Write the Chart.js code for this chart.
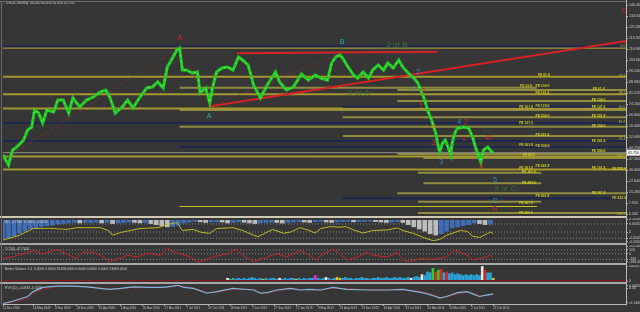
<!DOCTYPE html>
<html>
<head>
<meta charset="utf-8">
<title>USOIL Weekly</title>
<script src="https://cdn.jsdelivr.net/npm/chart.js@4.4.1/dist/chart.umd.min.js"></script>
<style>
  html, body { margin: 0; padding: 0; background: #363636; }
  #wrap { position: relative; width: 640px; height: 312px; overflow: hidden; }
  #wrap canvas { position: absolute; left: 0; }
  #wrap .rule { position: absolute; left: 0; background: #a8a8a8; }
</style>
</head>
<body>
<div id="wrap">
  <canvas id="main" width="640" height="216" style="top:0"></canvas>
  <canvas id="ao" width="640" height="25" style="top:218px"></canvas>
  <canvas id="cci" width="640" height="18" style="top:245px"></canvas>
  <canvas id="vol" width="640" height="17" style="top:265px"></canvas>
  <canvas id="rvi" width="640" height="28" style="top:284px"></canvas>
  <div class="rule" style="top:216px;width:626px;height:2px;background:#cfc8b2"></div>
  <div class="rule" style="top:243px;width:626px;height:2px"></div>
  <div class="rule" style="top:263px;width:626px;height:2px"></div>
  <div class="rule" style="top:282px;width:626px;height:2px"></div>
  <div class="rule" style="top:1px;width:626px;height:1px;background:#6c6c6c"></div>
  <div class="rule" style="top:1px;left:1px;width:1px;height:304px;background:#6c6c6c"></div>
  <div class="rule" style="top:0;left:626px;width:1px;height:305px;background:#b8b8b8"></div>
</div>
<script>
const FONT = '"Liberation Sans", "DejaVu Sans", Arial, sans-serif';
const WEEK_MAX = 455; // right edge of the chart window, in weeks from 11 Dec 2008

// ---- price (weekly, week index from 11 Dec 2008) ----
const priceWeeks = [0, 4, 7, 10, 15, 18, 21, 23, 26, 29, 32, 37, 40, 44, 48, 51, 56, 61, 66, 71,
  75, 78, 82, 87, 91, 95, 100, 105, 109, 113, 117, 120, 123, 127, 129, 131, 134, 138, 142, 144,
  148, 151, 153, 156, 160, 164, 168, 172, 175, 179, 183, 188, 193, 199, 202, 207, 212, 218, 223, 228,
  232, 237, 240, 243, 246, 248, 251, 256, 259, 263, 267, 270, 274, 278, 281, 285, 289, 292, 296, 300,
  303, 306, 308, 310, 313, 316, 318, 319, 321, 323, 325, 327, 328, 330, 332, 334, 336, 340, 343, 345,
  348, 349, 351, 354, 357, 358];
const priceClose = [40.2, 33.5, 43.5, 45.5, 50.2, 56.9, 58.9, 70.3, 68.3, 61.6, 70.3, 69.0, 77.0, 77.0, 68.3, 78.4, 72.3, 77.0, 79.0, 82.4,
  83.7, 79.0, 68.3, 72.3, 77.0, 71.7, 79.0, 85.1, 85.7, 89.1, 85.1, 99.1, 103.8, 110.5, 111.9, 97.1, 97.1, 95.1, 95.8, 81.7,
  85.1, 75.0, 85.1, 95.8, 98.5, 99.1, 97.1, 105.8, 103.8, 100.5, 87.1, 78.4, 87.1, 95.8, 89.1, 83.7, 85.7, 94.4, 90.4, 93.8,
  91.7, 90.4, 101.8, 105.8, 107.2, 105.2, 100.5, 93.8, 91.7, 95.8, 91.7, 97.1, 100.5, 97.1, 101.8, 98.5, 103.8, 99.1, 95.1, 91.7,
  88.4, 81.7, 77.0, 70.3, 63.6, 54.9, 45.5, 42.2, 48.2, 50.2, 45.5, 40.2, 48.2, 54.9, 58.3, 58.3, 58.9, 58.3, 52.2, 45.5,
  38.2, 35.5, 43.5, 45.5, 42.2, 41.8];
const lastPrice = 41.75;
const priceTicks = [140.400, 133.040, 125.680, 118.320, 110.960, 103.600, 96.240, 88.880, 81.520, 74.160,
  66.800, 59.440, 52.080, 44.720, 37.360, 30.000, 22.640, 15.280, 7.920, 0.560];

// fibonacci / expansion levels
const fibLevel = [112.9, 112.1, 92.6, 85.3, 83.7, 80.8, 76.4, 72.5, 71.3, 70.3, 65.4, 61.6, 59.1, 52.9,
  49.6, 45.5, 40.9, 39.2, 38.2, 30.5, 28.3, 21.2, 14.5, 11.2, 8.9, 5.7, 1.3];
const fibFrom = [0, 0, 0, 129, 288, 0, 288, 248, 0, 129, 248, 0, 129, 248,
  0, 129, 288, 0, 307, 0, 303, 307, 288, 248, 303, 129, 303];
const fibTo = [455, 455, 455, 390, 455, 455, 455, 455, 455, 455, 455, 455, 455, 455,
  455, 455, 455, 455, 455, 455, 393, 393, 455, 455, 393, 390, 455];
const fibKind = ['n', 'g', 'g', 'o', 'o', 'g', 'o', 'n', 'g', 'o', 'o', 'n', 'o', 'o',
  'n', 'n', 'o', 'g', 'o', 'g', 'o', 'o', 'o', 'n', 'o', 'y', 'o'];

const feText = ['FE 61.8', 'FE 61.8', 'FE 100.0', 'FE 61.8', 'FE 161.8', 'FE 100.0', 'FE 161.8', 'FE 123.6', 'FE 127.2', 'FE 200.0',
  'FE 161.8', 'FE 127.2', 'FE 200.0', 'FE 261.8', 'FE 261.8', 'FE 161.8', 'FE 300.0', 'FE 300.0', 'FE 50.0', 'FE 261.8',
  'FE 261.8', 'FE 161.8', 'FE 200.0', 'FE 161.8', 'FE 423.6', 'FE 361.8', 'FE 261.8', 'FE 423.6', 'FE 261.8', 'FE 300.0'];
const feWeek = [395, 382, 394, 435, 394, 435, 382, 394, 435, 394,
  435, 382, 435, 394, 435, 382, 394, 435, 384, 394,
  382, 435, 450, 384, 384, 435, 394, 450, 382, 382];
const feLevel = [93.8, 86.4, 86.4, 84.4, 81.7, 77.0, 72.3, 73.0, 72.3, 66.3,
  66.3, 61.6, 59.6, 53.6, 49.6, 46.9, 46.2, 42.9, 40.2, 32.8,
  31.5, 31.5, 30.8, 28.8, 21.4, 14.7, 12.7, 11.4, 8.0, 1.3];
const retrText = ['0.0', '23.6', '38.2', '50.0', '61.8', '76.4', '100.0', '161.8', '138.2'];
const retrLevel = [113.2, 93.1, 81.7, 72.3, 62.3, 50.9, 39.5, 30.8, 0.9];

// wave count labels
const waveText = ['A', 'A', 'B', '2 or B', '1 or A', '2', '1', '2', '1', '4', '3', '3', '4', '2', '1', '4?', '3', '5', '3 or C', 'C', 'B', 'C'];
const waveWeek = [129.3, 150.5, 247.6, 287.8, 260.0, 303.1, 300.2, 306.8, 305.3, 314.1, 314.1, 320.0, 333.1, 338.2, 336.7, 355.0, 349.2, 359.4, 366.7, 359.4, 359.4, 453.6];
const waveLevel = [118.6, 66.3, 115.9, 113.9, 81.7, 95.8, 84.4, 83.1, 73.0, 58.9, 48.2, 35.5, 62.3, 62.3, 50.9, 51.6, 32.8, 23.4, 17.4, 9.4, 4.0, 136.6];
const waveTone = ['r', 't', 't', 'g', 'g', 'b', 'b', 'r', 'r', 'o', 'r', 'b', 'b', 'r', 'r', 'r', 'r', 'b', 'g', 't', 'r', 'r'];

// red trend lines and dotted zigzag
const trendFromWeek = [171, 150.5];
const trendFromLevel = [108.3, 72.7];
const trendToWeek = [317, 455];
const trendToLevel = [109.4, 116.5];
const zigWeeks = [0, 129.3, 150.5, 247.6];
const zigLevels = [36.8, 112.5, 72.3, 108.5];

// ---- AO pane ----
const aoHist = [-0.85, -0.80, -0.72, -0.60, -0.50, -0.40, -0.33, -0.30, -0.25, -0.22,
  -0.18, -0.15, -0.12, -0.10, -0.12, -0.10, -0.10, -0.08, -0.12, -0.10,
  -0.15, -0.12, -0.10, -0.08, -0.10, -0.12, -0.10, -0.15, -0.20, -0.25,
  -0.30, -0.28, -0.22, -0.12, -0.08, -0.05, -0.07, -0.10, -0.08, -0.06,
  -0.08, -0.12, -0.10, -0.07, -0.09, -0.12, -0.15, -0.12, -0.10, -0.08,
  -0.10, -0.13, -0.10, -0.08, -0.06, -0.08, -0.10, -0.07, -0.05, -0.08,
  -0.10, -0.08, -0.06, -0.05, -0.07, -0.06, -0.05, -0.04, -0.06, -0.08,
  -0.10, -0.08, -0.06, -0.10, -0.20, -0.30, -0.40, -0.50, -0.62, -0.68,
  -0.62, -0.50, -0.35, -0.30, -0.25, -0.20, -0.12, -0.15, -0.20, -0.18];
const aoHistWeeks = aoHist.map((v, i) => i * 4);
const aoLineWeeks = [0, 12, 22, 34, 47, 54, 71, 77, 80, 86, 100, 113, 120, 127, 131, 139, 145, 151, 156, 168,
  175, 186, 193, 197, 205, 210, 217, 224, 228, 232, 239, 246, 250, 256, 263, 270, 281, 288, 292, 300,
  307, 314, 319, 324, 334, 339, 343, 348, 354, 356, 358];
const aoLine = [-0.91, -0.69, -0.38, -0.37, -0.42, -0.34, -0.34, -0.47, -0.69, -0.56, -0.38, -0.34, -0.20, -0.10, -0.47, -0.42, -0.56, -0.60, -0.38, -0.34,
  -0.47, -0.76, -0.54, -0.42, -0.60, -0.54, -0.34, -0.47, -0.59, -0.38, -0.29, -0.32, -0.29, -0.44, -0.59, -0.47, -0.44, -0.35, -0.47, -0.61,
  -0.79, -0.94, -0.88, -0.69, -0.47, -0.51, -0.73, -0.79, -0.61, -0.54, -0.61];
const aoLevels = [-0.17, -0.54, -0.83];
const aoTicks = [0.04, -0.17, -0.54, -0.83, -0.98];
const aoTickLabels = ['0.2050', '0.0045', '0', '-0.0045', '-0.2050'];

// ---- CCI pane ----
const cciWeeks = [0, 7, 18, 22, 29, 40, 47, 54, 58, 66, 71, 78, 82, 91, 98, 105, 115, 120, 122, 129,
  137, 142, 148, 153, 164, 170, 175, 183, 190, 200, 207, 217, 224, 229, 232, 239, 241, 246, 251, 259,
  266, 270, 281, 288, 292, 297, 305, 314, 324, 329, 334, 339, 343, 348, 354, 356, 358];
const cciValues = [-125, -85, 40, 83, 0, 108, -18, -125, 40, 40, -43, -210, -168, -43, -85, 15, -43, 165, 83, 0,
  -85, -215, -168, -85, 0, 125, -43, -210, -125, 0, -85, 83, -43, -168, -43, 83, 125, 0, -168, -85,
  40, -43, -85, 40, -168, -210, -125, -150, -85, 83, 40, -43, -168, -125, -68, -43, -100];
const cciLevels = [100, 0, -150];
const cciTicks = [200, 100, 0, -150, -215];
const cciTickLabels = ['261.4800', '100', '0', '-100', '-288.4800'];

// ---- Better Volume pane (thousands) ----
const volValues = [3, 2, 3, 2, 3, 2, 3, 2, 3, 4,
  3, 2, 3, 2, 3, 2, 3, 3, 2, 3,
  2, 3, 2, 3, 3, 2, 3, 2, 3, 2,
  3, 3, 6, 3, 2, 3, 4, 3, 2, 3,
  4, 3, 3, 4, 3, 3, 2, 3, 3, 4,
  3, 3, 2, 3, 3, 4, 3, 3, 4, 3,
  3, 4, 3, 4, 3, 3, 4, 3, 4, 5,
  4, 7, 6, 10, 9, 14, 10, 12, 13, 9,
  10, 8, 9, 7, 8, 7, 6, 7, 6, 7,
  6, 7, 6, 16, 12, 9, 9, 3];
const volWeeks = volValues.map((v, i) => 164 + i * 2);
const volTone = 'wgnnnnnnnn' + 'nnnynnnnnw' + 'nnnnnynnnn' + 'nnmnnnwnnn' + 'yynnnnnnnn' +
  'nnnnnnnnnn' + 'nnnnnnnwnn' + 'nwnnngrgrn' + 'rnnnnnnnnn' + 'nnnwrnny';
const volTicks = [16, 0];
const volTickLabels = ['40433.0', '0'];

// ---- RVI pane ----
const rviWeeks = [0, 7, 18, 22, 29, 39, 51, 61, 71, 78, 86, 95, 107, 117, 124, 128, 132, 139, 149, 156,
  168, 183, 188, 193, 200, 210, 217, 224, 232, 241, 251, 266, 281, 292, 302, 310, 316, 319, 324, 332,
  339, 343, 348, 354, 358];
const rviMain = [-0.120, -0.098, -0.051, -0.003, 0.038, 0.051, 0.051, 0.044, 0.029, 0.019, 0.029, 0.044, 0.038, 0.038, 0.051, 0.060, 0.038, 0.029, -0.019, -0.003,
  0.029, 0.013, -0.019, -0.013, 0.013, 0.029, 0.013, 0.019, 0.013, 0.038, 0.019, 0.013, 0.013, 0.019, -0.003, -0.025, -0.051, -0.066, -0.051, -0.013,
  -0.003, -0.025, -0.051, -0.035, -0.025];
const rviSignal = [-0.118, -0.108, -0.070, -0.025, 0.020, 0.045, 0.050, 0.046, 0.034, 0.022, 0.024, 0.038, 0.040, 0.036, 0.046, 0.054, 0.045, 0.032, -0.008, -0.012,
  0.020, 0.018, -0.010, -0.017, 0.004, 0.024, 0.018, 0.016, 0.014, 0.030, 0.026, 0.014, 0.012, 0.016, 0.004, -0.016, -0.040, -0.060, -0.058, -0.026,
  -0.008, -0.018, -0.042, -0.042, -0.030];
const rviTicks = [0.055, 0.03, -0.115];
const rviTickLabels = ['0.0460', '0.00', '-0.1400'];

// ---- date axis ----
const dateWeeks = [0, 22, 38, 54, 70, 86, 102, 118, 134, 150, 166, 182, 198, 214, 230, 246, 262, 278, 294, 310, 326, 342, 358];
const dateLabels = ['11 Dec 2008', '14 May 2009', '3 Sep 2009', '24 Dec 2009', '15 Apr 2010', '5 Aug 2010', '25 Nov 2010', '17 Mar 2011',
  '7 Jul 2011', '27 Oct 2011', '16 Feb 2012', '7 Jun 2012', '27 Sep 2012', '17 Jan 2013', '9 May 2013', '29 Aug 2013',
  '19 Dec 2013', '10 Apr 2014', '31 Jul 2014', '20 Nov 2014', '12 Mar 2015', '2 Jul 2015', '22 Oct 2015'];

// ---- styles ----
const fibStyle = { g: ['#a8962e', 2], o: ['#8f8c40', 2], n: ['#1e2752', 2], y: ['#c9c21e', 1.2] };
const waveColor = { r: '#e02626', t: '#1fb5b5', b: '#2f8ad8', g: '#2e7d2e', o: '#e8821e' };
const volColor = { n: '#2aa5dc', w: '#e8e8e8', g: '#2ccd2c', r: '#d42a2a', y: '#d8c82a', m: '#e02ae0' };

const pts = (xs, ys) => xs.map((x, i) => ({ x, y: ys[i] }));
const flat = (v, from, to) => [{ x: from, y: v }, { x: to, y: v }];
const lineSet = (data, color, width, extra) => Object.assign({
  type: 'line', data, borderColor: color, borderWidth: width, pointRadius: 0, tension: 0, fill: false
}, extra || {});

function notes(items, title) {
  return {
    id: 'notes',
    afterDatasetsDraw(chart) {
      const { ctx, chartArea, scales: { x, y } } = chart;
      ctx.save();
      items.forEach(n => {
        ctx.font = n.font;
        ctx.fillStyle = n.color;
        ctx.textAlign = n.align || 'center';
        ctx.textBaseline = 'middle';
        ctx.fillText(n.text, x.getPixelForValue(n.x), y.getPixelForValue(n.y));
      });
      if (title) {
        ctx.font = '3.4px ' + FONT;
        ctx.fillStyle = '#d0d0d0';
        ctx.textAlign = 'left';
        ctx.textBaseline = 'top';
        ctx.fillText(title, chartArea.left + 2, chartArea.top + 1);
      }
      ctx.restore();
    }
  };
}

function pane(id, cfg) {
  return new Chart(document.getElementById(id), {
    type: 'line',
    data: { datasets: cfg.datasets },
    options: {
      responsive: false,
      animation: false,
      events: [],
      layout: { padding: cfg.padding },
      plugins: { legend: { display: false }, tooltip: { enabled: false } },
      scales: {
        x: Object.assign({ type: 'linear', min: 0, max: WEEK_MAX, offset: false, display: false }, cfg.x || {}),
        y: {
          position: 'right',
          min: cfg.min,
          max: cfg.max,
          afterFit(s) { s.width = 14; s.paddingTop = 0; s.paddingBottom = 0; },
          afterBuildTicks(s) { s.ticks = cfg.ticks.map(v => ({ value: v })); },
          ticks: { color: '#c8c8c8', font: { size: 3.6, family: FONT }, padding: 1, autoSkip: false, callback: cfg.label },
          grid: { drawOnChartArea: false, tickLength: 2, color: '#b0b0b0' },
          border: { display: false }
        }
      }
    },
    plugins: [notes(cfg.notes || [], cfg.title)].concat(cfg.plugins || [])
  });
}

// ---- main price pane ----
const mainSets = [];
fibLevel.forEach((v, i) => {
  const st = fibStyle[fibKind[i]];
  mainSets.push(lineSet(flat(v, fibFrom[i], fibTo[i]), st[0], st[1], { order: 6 }));
});
mainSets.push(lineSet(flat(lastPrice, 0, WEEK_MAX), '#8c8c8c', 1, { order: 5 }));
mainSets.push(lineSet(pts(zigWeeks, zigLevels), '#9c3232', 1, { borderDash: [1, 2], order: 4 }));
trendFromWeek.forEach((w, i) => {
  mainSets.push(lineSet([{ x: w, y: trendFromLevel[i] }, { x: trendToWeek[i], y: trendToLevel[i] }], '#d62222', 2, { order: 3 }));
});
mainSets.push(lineSet(pts(priceWeeks, priceClose), '#22cc22', 3, { order: 2 }));
mainSets.push(lineSet(pts(priceWeeks, priceClose), 'rgba(215,255,215,0.75)', 0.7, { borderDash: [1.5, 4], order: 1 }));

const mainNotes = [];
feText.forEach((t, i) => mainNotes.push({ text: t, x: feWeek[i], y: feLevel[i], color: '#d8d01c', font: 'bold 3.4px ' + FONT }));
retrText.forEach((t, i) => mainNotes.push({ text: t, x: WEEK_MAX - 0.5, y: retrLevel[i], color: '#c8b830', font: '3.4px ' + FONT, align: 'right' }));
waveText.forEach((t, i) => mainNotes.push({
  text: t, x: waveWeek[i], y: waveLevel[i], color: waveColor[waveTone[i]],
  font: (t.length > 2 ? '8px ' : '7px ') + FONT
}));

const priceBox = {
  id: 'priceBox',
  afterDraw(chart) {
    const { ctx, chartArea, scales: { y } } = chart;
    const py = y.getPixelForValue(lastPrice);
    ctx.save();
    ctx.fillStyle = '#f2f2f2';
    ctx.fillRect(chartArea.right + 1, py - 3, 14, 6);
    ctx.fillStyle = '#202020';
    ctx.font = '3.6px ' + FONT;
    ctx.textAlign = 'left';
    ctx.textBaseline = 'middle';
    ctx.fillText(lastPrice.toFixed(3), chartArea.right + 2, py);
    ctx.font = '3.4px ' + FONT;
    ctx.fillStyle = '#d0d0d0';
    ctx.textBaseline = 'top';
    ctx.fillText('USOIL,Weekly  44.450 44.810 41.620 41.750', chartArea.left + 3, 1.5);
    ctx.restore();
  }
};

pane('main', {
  padding: { top: 3, bottom: 1, left: 3, right: 0 },
  min: 0, max: 142, ticks: priceTicks,
  label: v => v.toFixed(3),
  datasets: mainSets, notes: mainNotes, plugins: [priceBox]
});

// ---- AO ----
pane('ao', {
  padding: { top: 1, bottom: 1, left: 3, right: 0 },
  min: -1, max: 0.06, ticks: aoTicks,
  label: (v, i) => aoTickLabels[i],
  title: 'AO -4.7046  0.0004  -4.6521',
  datasets: [
    ...aoLevels.map(v => lineSet(flat(v, 0, WEEK_MAX), '#858585', 1, { borderDash: [1, 2], order: 5 })),
    {
      type: 'bar', data: pts(aoHistWeeks, aoHist), barThickness: 4, order: 3,
      backgroundColor: aoHist.map((v, i) => (i === 0 || v >= aoHist[i - 1]) ? '#3f6fb8' : '#bdbdbd')
    },
    lineSet(pts(aoLineWeeks, aoLine), '#c0b82a', 1, { order: 1 })
  ]
});

// ---- CCI ----
pane('cci', {
  padding: { top: 1, bottom: 1, left: 3, right: 0 },
  min: -220, max: 205, ticks: cciTicks,
  label: (v, i) => cciTickLabels[i],
  title: 'CCI(4) -47.7006',
  datasets: [
    ...cciLevels.map(v => lineSet(flat(v, 0, WEEK_MAX), '#858585', 1, { borderDash: [1, 2], order: 5 })),
    lineSet(pts(cciWeeks, cciValues), '#c42828', 1, { order: 1 })
  ]
});

// ---- Better Volume ----
pane('vol', {
  padding: { top: 1, bottom: 1, left: 3, right: 0 },
  min: 0, max: 16.5, ticks: volTicks,
  label: (v, i) => volTickLabels[i],
  title: 'Better Volume 1.4  0.0000 0.0000 25438.0000 0.0000 0.0000 0.0000 13463.0000',
  datasets: [
    {
      type: 'bar', data: pts(volWeeks, volValues), barThickness: 2, order: 3,
      backgroundColor: volValues.map((v, i) => volColor[volTone[i]])
    },
    lineSet(flat(0.25, 0, WEEK_MAX), '#8a1818', 1.5, { order: 1 })
  ]
});

// ---- RVI + date axis ----
pane('rvi', {
  padding: { top: 1, bottom: 0, left: 3, right: 0 },
  min: -0.125, max: 0.062, ticks: rviTicks,
  label: (v, i) => rviTickLabels[i],
  title: 'RVI (10) -0.0333 -0.0241',
  x: {
    display: true,
    position: 'bottom',
    afterFit(s) { s.height = 8; s.paddingLeft = 0; s.paddingRight = 0; },
    afterBuildTicks(s) { s.ticks = dateWeeks.map(v => ({ value: v })); },
    ticks: {
      align: 'start', maxRotation: 0, minRotation: 0, autoSkip: false, padding: 0.5,
      font: { size: 3, family: FONT }, color: '#c8c8c8',
      callback: (v, i) => dateLabels[i]
    },
    grid: { drawOnChartArea: false, tickLength: 2, color: '#b0b0b0' },
    border: { display: true, color: '#b8b8b8' }
  },
  datasets: [
    lineSet(pts(rviWeeks, rviSignal), '#a02828', 1, { order: 2 }),
    lineSet(pts(rviWeeks, rviMain), '#7ab8e0', 1.2, { order: 1 })
  ]
});
</script>
</body>
</html>
